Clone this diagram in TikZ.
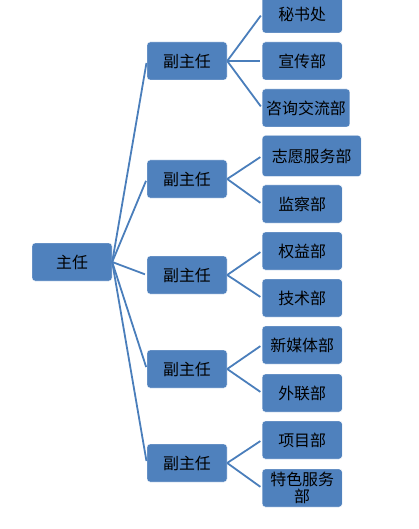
\documentclass[tikz,border=0pt]{standalone}
\usepackage{fontspec}
\newfontfamily\cjk{Noto Sans CJK SC}
\usepackage{tikz}
\usetikzlibrary{calc}
\definecolor{boxblue}{HTML}{4F81BD}
\definecolor{lineblue}{HTML}{4A7EBB}
\tikzset{orgbox/.style={rectangle,rounded corners=3bp,fill=boxblue,draw=white,line width=0.4bp,
  minimum width=80bp,minimum height=38bp,inner xsep=4bp,align=center,
  font=\cjk\fontsize{16}{17.5}\selectfont}}
\def\orgnode{\node[orgbox]}
\def\deptnode{\node[orgbox,anchor=west]}
\def\drawlink{\draw[color=lineblue,line width=1.8bp,shorten >=2bp]}

\begin{document}
\begin{tikzpicture}[x=1bp,y=-1bp]
\useasboundingbox (0,0) rectangle (418,529);
\coordinate (o) at (72,262);
\orgnode (zhuren) at (o) {主任}; % everything else is placed relative to (o)

% deputies
\orgnode (fu1) at ($ (o) + (115,-201) $) {副主任};
\orgnode (fu2) at ($ (o) + (115,-83) $) {副主任};
\orgnode (fu3) at ($ (o) + (115,13) $) {副主任};
\orgnode (fu4) at ($ (o) + (115,107) $) {副主任};
\orgnode (fu5) at ($ (o) + (115,201) $) {副主任};

% departments
\deptnode (mishu) at ($ (o) + (190,-248) $) {秘书处};
\deptnode (xuanchuan) at ($ (o) + (190,-201) $) {宣传部};
\deptnode (zixun) at ($ (o) + (190,-154) $) {咨询交流部};
\deptnode[minimum width=99bp,minimum height=41bp] (zhiyuan) at ($ (o) + (190,-106) $) {志愿服务部};
\deptnode (jiancha) at ($ (o) + (190,-58) $) {监察部};
\deptnode (quanyi) at ($ (o) + (190,-11) $) {权益部};
\deptnode (jishu) at ($ (o) + (190,36) $) {技术部};
\deptnode (xinmeiti) at ($ (o) + (190,83) $) {新媒体部};
\deptnode (wailian) at ($ (o) + (190,131) $) {外联部};
\deptnode (xiangmu) at ($ (o) + (190,178) $) {项目部};
\deptnode[inner ysep=1bp] (tese) at ($ (o) + (190,226) $) {特色服务\\部};

% links from the head to the deputies
\drawlink (zhuren.east) -- (fu1.west);
\drawlink (zhuren.east) -- (fu2.west);
\drawlink (zhuren.east) -- (fu3.west);
\drawlink (zhuren.east) -- (fu4.west);
\drawlink (zhuren.east) -- (fu5.west);

% links from the deputies to the departments
\drawlink (fu1.east) -- (mishu.west);
\drawlink (fu1.east) -- (xuanchuan.west);
\drawlink (fu1.east) -- (zixun.west);
\drawlink (fu2.east) -- (zhiyuan.west);
\drawlink (fu2.east) -- (jiancha.west);
\drawlink (fu3.east) -- (quanyi.west);
\drawlink (fu3.east) -- (jishu.west);
\drawlink (fu4.east) -- (xinmeiti.west);
\drawlink (fu4.east) -- (wailian.west);
\drawlink (fu5.east) -- (xiangmu.west);
\drawlink (fu5.east) -- (tese.west);
\end{tikzpicture}
\end{document}
